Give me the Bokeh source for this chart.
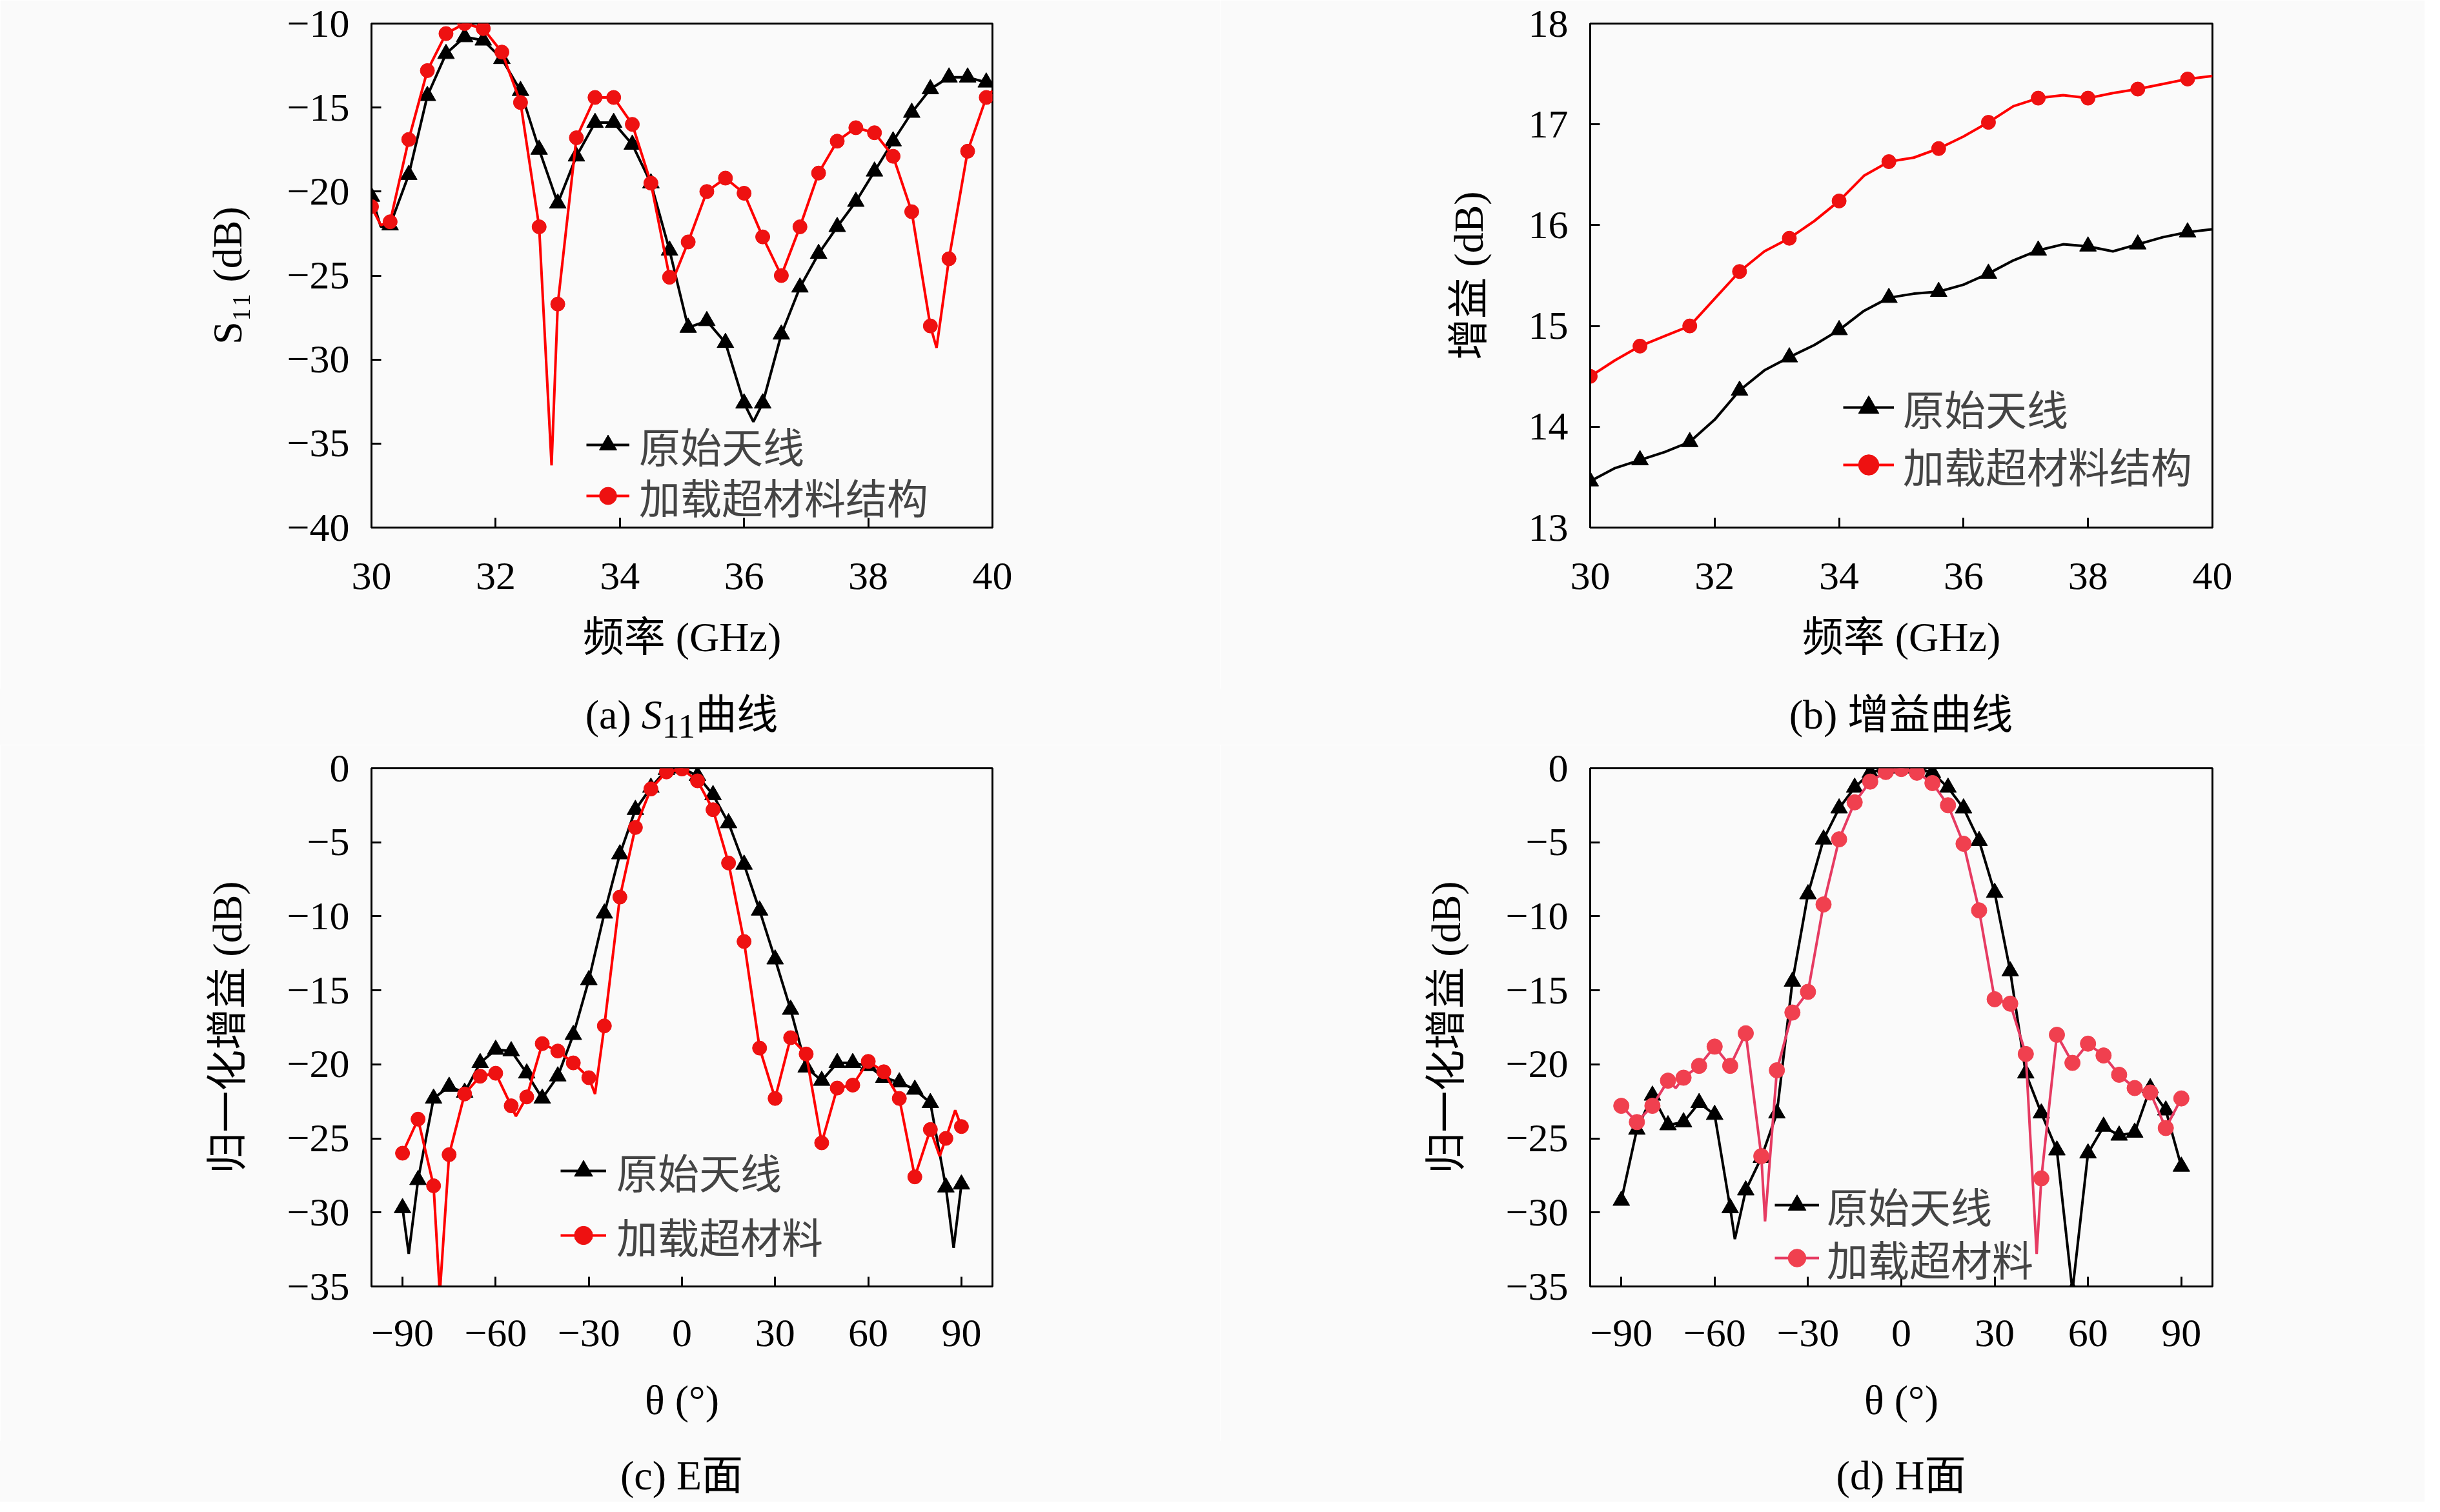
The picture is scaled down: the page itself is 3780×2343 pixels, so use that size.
from bokeh.plotting import figure
from bokeh.layouts import column, row
from bokeh.models import Range1d, FixedTicker, CustomJSTickFormatter, Legend, LegendItem, Div
from bokeh.embed import file_html
from bokeh.resources import INLINE

BG = "#fafafa"
FONT = "Liberation Serif, Noto Sans CJK SC"

LBL_ORIG = "原始天线"

########################################################################################################################
# (a) S11 curves, frequency in GHz, markers every 0.3 GHz
freq_a = [30.0, 30.3, 30.6, 30.9, 31.2, 31.5, 31.8, 32.1, 32.4, 32.7, 33.0, 33.3, 33.6, 33.9, 34.2, 34.5, 34.8,
          35.1, 35.4, 35.7, 36.0, 36.3, 36.6, 36.9, 37.2, 37.5, 37.8, 38.1, 38.4, 38.7, 39.0, 39.3, 39.6, 39.9]
s11_orig = [-20.3, -22.0, -19.0, -14.3, -11.8, -10.8, -11.0, -12.1, -14.0, -17.5, -20.7, -17.9, -15.9, -15.9,
            -17.2, -19.5, -23.5, -28.1, -27.7, -29.0, -32.6, -32.6, -28.5, -25.7, -23.7, -22.1, -20.6, -18.8,
            -17.0, -15.3, -13.9, -13.2, -13.2, -13.5]
s11_meta = [-20.9, -21.8, -16.9, -12.8, -10.6, -10.0, -10.3, -11.7, -14.7, -22.1, -26.7, -16.8, -14.4, -14.4,
            -16.0, -19.5, -25.1, -23.0, -20.0, -19.2, -20.1, -22.7, -25.0, -22.1, -18.9, -17.0, -16.2, -16.5,
            -17.9, -21.2, -28.0, -24.0, -17.6, -14.4]
# extra readings of the curves between markers (dips and ends)
s11_orig_xf = [30.15, 36.15, 40.0]
s11_orig_xv = [-22.1, -33.7, -13.6]
s11_meta_xf = [30.15, 32.9, 34.85, 39.1, 40.0]
s11_meta_xv = [-22.0, -36.3, -25.3, -29.3, -14.0]

########################################################################################################################
# (b) gain curves, markers every 0.8 GHz
freq_b = [30.0, 30.8, 31.6, 32.4, 33.2, 34.0, 34.8, 35.6, 36.4, 37.2, 38.0, 38.8, 39.6]
gain_orig = [13.46, 13.67, 13.85, 14.36, 14.69, 14.96, 15.28, 15.34, 15.52, 15.75, 15.79, 15.81, 15.93]
gain_meta = [14.50, 14.80, 15.00, 15.54, 15.87, 16.24, 16.63, 16.76, 17.02, 17.26, 17.26, 17.35, 17.45]
freq_b_mid = [30.4, 31.2, 32.0, 32.8, 33.6, 34.4, 35.2, 36.0, 36.8, 37.6, 38.4, 39.2, 40.0]
gain_orig_mid = [13.59, 13.75, 14.07, 14.56, 14.81, 15.15, 15.32, 15.41, 15.65, 15.81, 15.74, 15.88, 15.96]
gain_meta_mid = [14.66, 14.90, 15.27, 15.74, 16.04, 16.49, 16.67, 16.88, 17.18, 17.29, 17.31, 17.40, 17.48]

########################################################################################################################
# (c) E plane and (d) H plane, markers every 5 degrees
theta = [-90, -85, -80, -75, -70, -65, -60, -55, -50, -45, -40, -35, -30, -25, -20, -15, -10, -5, 0,
         5, 10, 15, 20, 25, 30, 35, 40, 45, 50, 55, 60, 65, 70, 75, 80, 85, 90]
e_orig = [-29.7, -27.8, -22.3, -21.5, -21.9, -19.9, -19.0, -19.1, -20.6, -22.3, -20.8, -18.0, -14.3, -9.8,
          -5.8, -2.8, -1.3, -0.1, 0.0, -0.5, -1.8, -3.7, -6.5, -9.6, -12.9, -16.3, -20.2, -21.1, -19.9,
          -19.9, -20.1, -20.9, -21.2, -21.7, -22.6, -28.3, -28.1]
e_meta = [-26.0, -23.7, -28.2, -26.1, -22.0, -20.8, -20.6, -22.8, -22.2, -18.6, -19.1, -19.9, -20.9, -17.4,
          -8.7, -4.0, -1.4, -0.25, -0.05, -0.85, -2.8, -6.4, -11.7, -18.9, -22.3, -18.2, -19.3, -25.3, -21.6,
          -21.4, -19.8, -20.5, -22.3, -27.6, -24.4, -25.0, -24.2]
e_orig_xt = [-88.0, 87.5]
e_orig_xv = [-32.8, -32.4]
e_meta_xt = [-78.0, -53.5, -28.0, 83.0, 88.0]
e_meta_xv = [-35.5, -23.5, -22.0, -26.2, -23.1]

h_orig = [-29.2, -24.4, -22.1, -24.1, -23.9, -22.6, -23.4, -29.7, -28.5, -26.3, -23.3, -14.4, -8.5, -4.8,
          -2.7, -1.3, -0.3, 0.0, 0.0, 0.0, -0.3, -1.3, -2.7, -4.9, -8.4, -13.7, -20.6, -23.3, -25.8,
          -35.3, -26.0, -24.2, -24.8, -24.6, -21.6, -23.1, -26.9]
h_meta = [-22.8, -23.9, -22.8, -21.1, -20.9, -20.1, -18.8, -20.1, -17.9, -26.2, -20.4, -16.5, -15.1, -9.2,
          -4.8, -2.3, -0.9, -0.25, -0.05, -0.3, -1.0, -2.5, -5.1, -9.6, -15.6, -15.9, -19.3, -27.7, -18.0,
          -19.9, -18.6, -19.4, -20.7, -21.6, -21.9, -24.3, -22.3]
h_orig_xt = [-53.5]
h_orig_xv = [-31.8]
h_meta_xt = [-72.5, -43.8, 43.5]
h_meta_xv = [-21.6, -30.6, -32.8]


def merged(xm, ym, xe, ye):
    pts = sorted(zip(list(xm) + list(xe), list(ym) + list(ye)))
    return [a for a, b in pts], [b for a, b in pts]


minus_fmt = "return tick < 0 ? '\u2212' + Math.abs(tick) : String(tick);"


def make_panel(w, h, left, right, top, bottom, xr, yr, xticks, yticks, xlabel, ylabel, tick_gap, xlabel_gap):
    p = figure(width=w, height=h, x_range=Range1d(*xr), y_range=Range1d(*yr),
               output_backend="svg", toolbar_location=None,
               min_border_left=left, min_border_right=right, min_border_top=top, min_border_bottom=bottom,
               background_fill_color=BG, border_fill_color=BG)
    p.grid.visible = False
    p.outline_line_color = "black"
    p.outline_line_width = 3
    p.outline_line_alpha = 1
    p.xaxis.ticker = FixedTicker(ticks=xticks)
    p.yaxis.ticker = FixedTicker(ticks=yticks)
    p.xaxis.axis_label = xlabel
    p.yaxis.axis_label = ylabel
    for ax in (p.xaxis[0], p.yaxis[0]):
        ax.formatter = CustomJSTickFormatter(code=minus_fmt)
        ax.major_tick_in = 15
        ax.major_tick_out = 0
        ax.minor_tick_line_color = None
        ax.axis_line_width = 3
        ax.major_tick_line_width = 3
        ax.major_label_text_font = FONT
        ax.major_label_text_font_size = "62px"
        ax.major_label_text_color = "black"
        ax.axis_label_text_font = FONT
        ax.axis_label_text_font_size = "64px"
        ax.axis_label_text_font_style = "normal"
        ax.axis_label_text_color = "black"
    p.xaxis.major_label_standoff = tick_gap
    p.yaxis.major_label_standoff = 34
    p.xaxis.axis_label_standoff = xlabel_gap
    p.yaxis.axis_label_standoff = 54
    return p


def caption(html, w, h, left, frame_w, pad_top):
    style = ("margin-left:%dpx;width:%dpx;text-align:center;font-family:'Liberation Serif','Noto Sans CJK SC';"
             "font-size:64px;line-height:82px;padding-top:%dpx;color:black;white-space:nowrap;"
             % (left, frame_w, pad_top))
    return Div(text='<div style="%s">%s</div>' % (style, html), width=w, height=h, margin=0,
               styles={"background-color": BG})


def add_series(p, x, y, xm, ym, color, marker, size, mcolor=None):
    mcolor = mcolor or color
    r1 = p.line(x, y, line_color=color, line_width=4)
    r2 = p.scatter(xm, ym, marker=marker, size=size, fill_color=mcolor, line_color=mcolor)
    return [r1, r2]


def add_legend_row(p, label, renderers, x, y, glyph_w, standoff):
    lg = Legend(items=[LegendItem(label=label, renderers=renderers)], location=(x, y),
                padding=0, margin=0, spacing=0, border_line_alpha=0, background_fill_alpha=0,
                label_text_font=FONT, label_text_font_size="64px", label_height=100, glyph_height=100,
                glyph_width=glyph_w, label_standoff=standoff)
    p.add_layout(lg)


########################################################################################################################
# (a)
pa = make_panel(1890, 1067, 575, 353, 36, 250, (30, 40), (-40, -10), [30, 32, 34, 36, 38, 40],
                [-40, -35, -30, -25, -20, -15, -10], "频率 (GHz)", "S₁₁ (dB)", 55, 36)
x, y = merged(freq_a, s11_orig, s11_orig_xf, s11_orig_xv)
ra1 = add_series(pa, x, y, freq_a, s11_orig, "black", "triangle", 26)
x, y = merged(freq_a, s11_meta, s11_meta_xf, s11_meta_xv)
ra2 = add_series(pa, x, y, freq_a, s11_meta, "#ff0000", "circle", 22, "#ee1111")
add_legend_row(pa, LBL_ORIG, ra1, 333, 78, 67, 15)
add_legend_row(pa, "加载超材料结构", ra2, 333, -1, 67, 15)

# (b)
pb = make_panel(1866, 1067, 573, 329, 36, 250, (30, 40), (13, 18), [30, 32, 34, 36, 38, 40],
                [13, 14, 15, 16, 17, 18], "频率 (GHz)", "增益 (dB)", 55, 36)
x, y = merged(freq_b, gain_orig, freq_b_mid, gain_orig_mid)
rb1 = add_series(pb, x, y, freq_b, gain_orig, "black", "triangle", 26)
x, y = merged(freq_b, gain_meta, freq_b_mid, gain_meta_mid)
rb2 = add_series(pb, x, y, freq_b, gain_meta, "#ff0000", "circle", 22, "#ee1111")
add_legend_row(pb, LBL_ORIG, rb1, 392, 136, 79, 14)
add_legend_row(pb, "加载超材料结构", rb2, 392, 47, 79, 14)

# (c)
pc = make_panel(1890, 1079, 575, 353, 36, 240, (-100, 100), (-35, 0), [-90, -60, -30, 0, 30, 60, 90],
                [-35, -30, -25, -20, -15, -10, -5, 0], "θ (°)", "归一化增益 (dB)", 52, 45)
x, y = merged(theta, e_orig, e_orig_xt, e_orig_xv)
rc1 = add_series(pc, x, y, theta, e_orig, "black", "triangle", 26)
x, y = merged(theta, e_meta, e_meta_xt, e_meta_xv)
rc2 = add_series(pc, x, y, theta, e_meta, "#ff0000", "circle", 22, "#ee1111")
add_legend_row(pc, LBL_ORIG, rc1, 293, 129, 71, 16)
add_legend_row(pc, "加载超材料", rc2, 293, 29, 71, 16)

# (d)
pd_ = make_panel(1866, 1079, 573, 329, 36, 240, (-100, 100), (-35, 0), [-90, -60, -30, 0, 30, 60, 90],
                 [-35, -30, -25, -20, -15, -10, -5, 0], "θ (°)", "归一化增益 (dB)", 52, 45)
x, y = merged(theta, h_orig, h_orig_xt, h_orig_xv)
rd1 = add_series(pd_, x, y, theta, h_orig, "black", "triangle", 26)
x, y = merged(theta, h_meta, h_meta_xt, h_meta_xv)
rd2 = add_series(pd_, x, y, theta, h_meta, "#e63b62", "circle", 24, "#f0404f")
add_legend_row(pd_, LBL_ORIG, rd1, 286, 76, 69, 12)
add_legend_row(pd_, "加载超材料", rd2, 286, -6, 69, 12)

cap_a = caption("(a) <i>S</i><sub>11</sub>曲线", 1890, 87, 575, 962, 0)
cap_b = caption("(b) 增益曲线", 1866, 87, 573, 964, 0)
cap_c = caption("(c) E面", 1890, 94, 575, 962, 13)
cap_d = caption("(d) H面", 1866, 94, 573, 964, 13)

layout = column(row(pa, pb), row(cap_a, cap_b), row(pc, pd_), row(cap_c, cap_d))
open("out.html", "w").write(file_html(layout, INLINE))
